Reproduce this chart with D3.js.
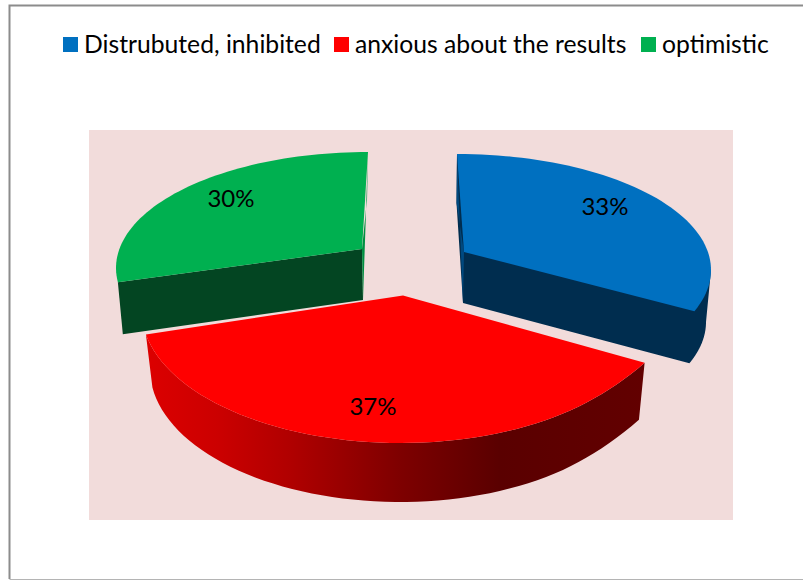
<!DOCTYPE html>
<html><head><meta charset="utf-8">
<script src="https://cdn.jsdelivr.net/npm/d3@7"></script>
<style>html,body{margin:0;padding:0;background:#fff}svg{display:block}</style>
</head><body><div id="c"></div>
<script>
const categories = ["Distrubuted, inhibited", "anxious about the results", "optimistic"];
const values = [33, 37, 30];
const colors = ["#0070C0", "#FF0000", "#00B050"];

const W = 803, H = 580;
const rad = Math.PI / 180;
// Perspective layout of each exploded slice: top ellipse, bottom ellipse, apexes, angle correction.
const layout = [
  {top:{cx:457,cy:270,rx:254,ry:116}, low:{cx:452,cy:322,rx:254,ry:116}, apex:[464,252], lowApex:[463,303],
   shift:[0,-8], side:"#002D4F", sliver:"#00497F", sliverPts:[[457,154],[456.5,203],[464,252]], wallFrom:90, label:[605,207]},
  {top:{cx:400.5,cy:310,rx:259,ry:133}, low:{cx:400,cy:369,rx:250,ry:133}, apex:[403,295.5], lowApex:null,
   cornerTop:[9,-3], cornerLow:[12,-5], fade:[115,135],
   shift:[-4,7.4], lowShift:[-4,10], side:"url(#redWall)", label:[373,407]},
  {top:{cx:368,cy:268,rx:252,ry:116}, low:{cx:368,cy:320,rx:247,ry:116}, apex:[362,249], lowApex:[363,300],
   shift:[11,0], side:"#034522", sliver:"#008F41", sliverPts:[[368,152],[367,200],[362,249]], wallFrom:null, label:[231,199]}
];
const legendX = [63, 334, 641];

const svg = d3.select("#c").append("svg").attr("width", W).attr("height", H);
const grad = svg.append("defs").append("linearGradient").attr("id","redWall")
  .attr("gradientUnits","userSpaceOnUse").attr("x1",146).attr("x2",644).attr("y1",0).attr("y2",0);
[[0,"#DC0000"],[0.14,"#CC0000"],[0.29,"#B00000"],[0.51,"#7E0000"],[0.71,"#5A0000"],[1,"#620000"]]
  .forEach(s=>grad.append("stop").attr("offset",s[0]).attr("stop-color",s[1]));

svg.append("rect").attr("width",W).attr("height",H).attr("fill","#fff");
svg.append("rect").attr("x",89).attr("y",130).attr("width",644).attr("height",390).attr("fill","#F2DCDB");
// frame
svg.append("path").attr("d",`M803,5.5H9.5V579`).attr("fill","none").attr("stroke","#8C8C8C").attr("stroke-width",2);
svg.append("path").attr("d",`M9.5,579.5H803`).attr("fill","none").attr("stroke","#B4B4B4").attr("stroke-width",1);

const pie = d3.pie().sort(null).value(d=>d)(values);
const line = d3.line().curve(d3.curveLinear);
const pt = (e,deg)=>[e.cx+e.rx*Math.sin(deg*rad), e.cy-e.ry*Math.cos(deg*rad)];
const arcPts = (e,a0,a1)=>d3.range(0,61).map(i=>pt(e,a0+(a1-a0)*i/60));
// ellipse arc pulled towards the slice's outer corner near its right-hand end
const warped = (pts,angles,off,fade)=>pts.map((q,i)=>{
  const w = Math.max(0,Math.min(1,(fade[1]-angles[i])/(fade[1]-fade[0])));
  return [q[0]+off[0]*w*w, q[1]+off[1]*w*w];
});
const angs = (a0,a1)=>d3.range(0,61).map(i=>a0+(a1-a0)*i/60);

const order = [2,0,1]; // back slices first
order.forEach(i=>{
  const L = layout[i], p = pie[i];
  const view = d3.scaleLinear().domain([p.startAngle,p.endAngle])
    .range([p.startAngle/rad+L.shift[0], p.endAngle/rad+L.shift[1]]);
  const a0 = view(p.startAngle), a1 = view(p.endAngle);
  const g = svg.append("g");
  if(i===0){
    const pts = [pt(L.top,a0), L.sliverPts[1], L.lowApex, ...arcPts(L.low,a1,L.wallFrom), pt(L.top,L.wallFrom)];
    g.append("path").attr("d",line(pts)+"Z").attr("fill",L.side);
    g.append("path").attr("d",line([...L.sliverPts, L.lowApex])+"Z").attr("fill",L.sliver);
    g.append("path").attr("d",line([L.apex, ...arcPts(L.top,a0,a1)])+"Z").attr("fill",colors[i]);
  } else if(i===2){
    const pts = [L.lowApex, pt(L.low,a0), pt(L.top,a0), L.apex];
    g.append("path").attr("d",line(pts)+"Z").attr("fill",L.side);
    g.append("path").attr("d",line([...L.sliverPts, L.lowApex])+"Z").attr("fill",L.sliver);
    g.append("path").attr("d",line([L.apex, ...arcPts(L.top,a0,a1)])+"Z").attr("fill",colors[i]);
  } else {
    // pie start is the right-hand end of the slice, pie end the left-hand end
    const b0 = p.startAngle/rad+L.lowShift[0], b1 = p.endAngle/rad+L.lowShift[1];
    const topArc = warped(arcPts(L.top,a0,a1), angs(a0,a1), L.cornerTop, L.fade);
    const lowArc = warped(arcPts(L.low,b1,b0), angs(b1,b0), L.cornerLow, L.fade);
    g.append("path").attr("d",line([...topArc, ...lowArc])+"Z").attr("fill",L.side);
    g.append("path").attr("d",line([L.apex, ...topArc])+"Z").attr("fill",colors[i]);
  }
});

layout.forEach((L,i)=>{
  svg.append("text").attr("x",L.label[0]).attr("y",L.label[1]+8).attr("text-anchor","middle")
    .attr("font-family","Lato, Carlito, sans-serif").attr("font-size",24).attr("fill","#000").text(values[i]+"%");
});

const legend = svg.append("g");
categories.forEach((c,i)=>{
  legend.append("rect").attr("x",legendX[i]).attr("y",37).attr("width",15).attr("height",15).attr("fill",colors[i]);
  legend.append("text").attr("x",legendX[i]+21).attr("y",53).attr("font-family","Lato, Carlito, sans-serif")
    .attr("font-size",24.7).attr("fill","#000").text(c);
});
</script></body></html>
